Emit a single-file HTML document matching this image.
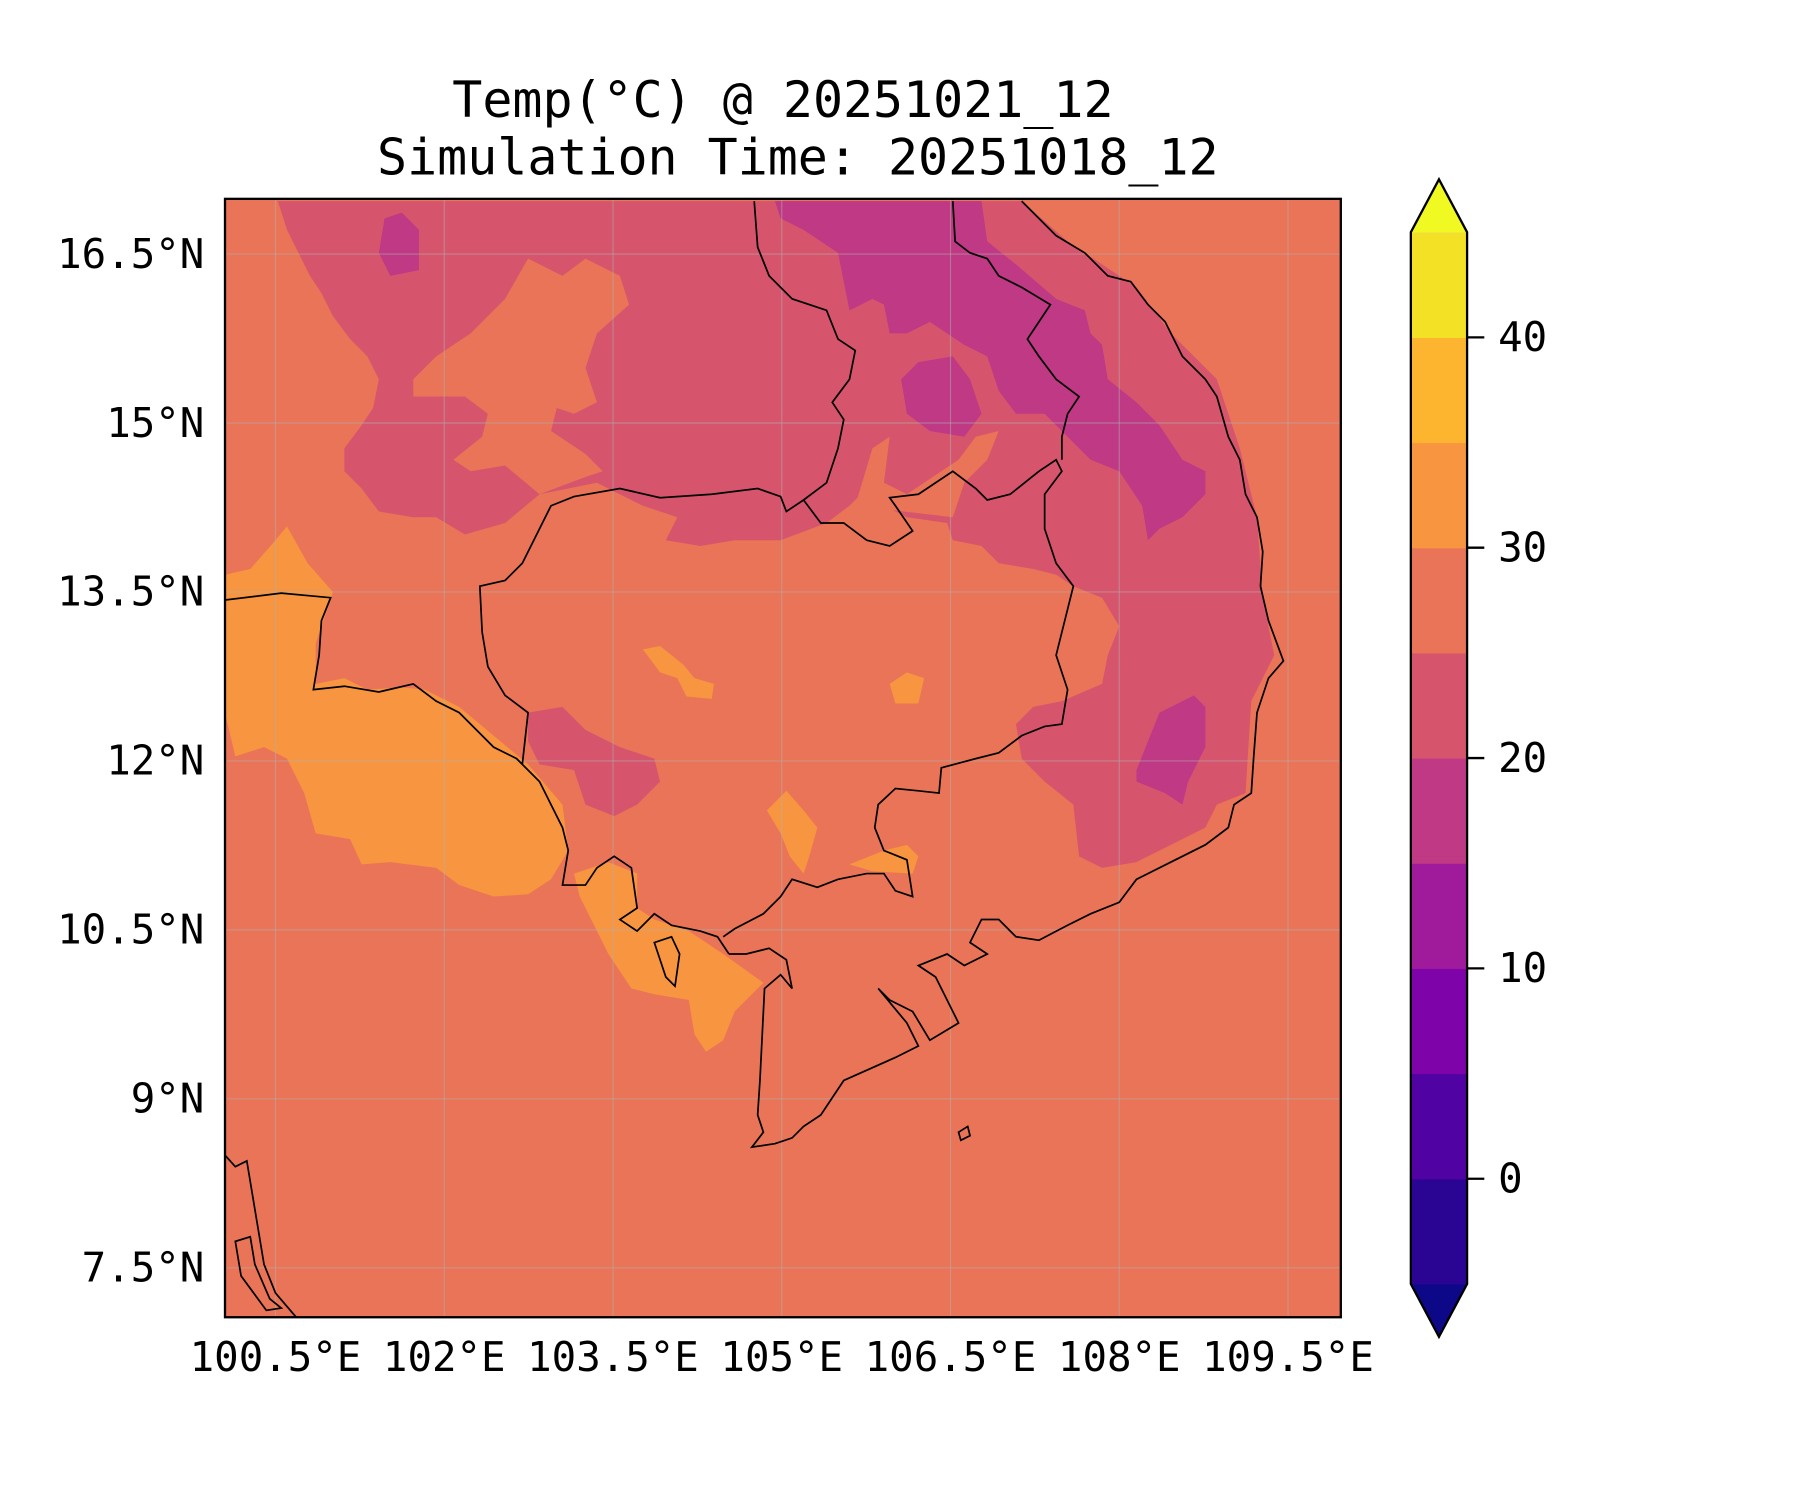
<!DOCTYPE html>
<html><head><meta charset="utf-8"><style>
html,body{margin:0;padding:0;background:#fff}
svg{display:block}
text{font-family:"DejaVu Sans Mono","Liberation Mono",monospace;fill:#000}
</style></head><body>
<svg id="fig" width="1800" height="1500" viewBox="0 0 1568 1305" preserveAspectRatio="none" xmlns="http://www.w3.org/2000/svg">
<text x="682" y="102" font-size="43.5" text-anchor="middle">Temp(°C) @ 20251021_12</text>
<text x="695" y="152" font-size="43.5" text-anchor="middle">Simulation Time: 20251018_12</text>
<defs><clipPath id="mapclip"><rect x="196" y="173" width="972" height="973"/></clipPath></defs>
<g clip-path="url(#mapclip)">
<rect x="196" y="173" width="972" height="973" fill="#ea7457"/>
<polygon fill="#f89540" points="196,500 218,495 240,470 250,458 268,490 290,515 275,560 275,595 300,590 320,600 350,598 370,600 400,615 430,640 460,665 490,700 495,740 480,765 460,778 430,780 400,770 380,755 340,750 315,752 305,730 275,725 265,690 250,660 230,650 205,658 196,620"/>
<polygon fill="#f89540" points="500,760 530,750 555,760 555,790 570,800 600,810 630,830 665,855 640,880 630,905 615,915 605,900 600,870 570,865 550,860 530,830 515,800 505,780"/>
<polygon fill="#f89540" points="560,565 575,562 595,578 605,590 622,595 620,608 598,606 590,590 575,585"/>
<polygon fill="#f89540" points="775,595 790,585 805,590 800,612 780,612"/>
<polygon fill="#f89540" points="668,705 685,688 700,705 712,720 705,745 700,760 688,745 680,725"/>
<polygon fill="#f89540" points="740,752 770,740 790,735 800,745 795,760 760,758"/>
<polygon fill="#d6556d" points="242,175 890,175 930,210 990,250 1020,290 1060,330 1080,390 1095,450 1100,520 1110,570 1090,610 1085,690 1060,700 1050,720 1030,730 990,750 960,755 940,745 935,700 910,680 890,660 885,630 900,615 925,610 960,595 965,570 975,545 960,520 935,510 920,500 900,495 870,490 855,475 830,470 825,455 790,450 770,440 760,420 740,440 720,455 680,470 640,470 610,475 580,470 590,450 560,440 520,420 470,430 440,455 405,465 380,450 360,450 330,445 315,425 300,410 300,390 315,370 325,355 330,330 320,310 305,295 290,275 280,255 270,240 260,220 250,200"/>
<polygon fill="#d6556d" points="460,620 490,615 510,635 540,650 570,660 575,680 555,700 535,710 510,700 500,670 470,665 460,645"/>
<polygon fill="#ea7457" points="360,330 380,310 410,290 440,260 460,225 490,240 510,225 540,240 548,265 520,290 510,320 520,350 500,360 485,355 480,375 510,395 525,410 510,415 470,430 440,405 410,410 395,400 420,380 425,360 405,345 380,345 360,345"/>
<polygon fill="#ea7457" points="745,440 760,390 775,380 770,420 790,430 820,410 835,400 850,380 870,375 860,400 840,420 830,450"/>
<polygon fill="#bf3984" points="675,175 855,175 860,210 885,230 920,260 945,270 950,290 960,300 965,330 990,350 1010,370 1030,400 1050,410 1050,430 1040,440 1030,450 1010,460 1000,470 995,440 975,410 950,400 930,380 910,360 885,360 870,340 860,310 840,300 825,290 810,280 790,290 775,290 770,265 760,260 740,270 730,220 700,200 680,190"/>
<polygon fill="#bf3984" points="785,330 800,315 830,310 845,330 855,360 840,380 810,375 790,360"/>
<polygon fill="#bf3984" points="335,190 350,185 365,200 365,235 340,240 330,220"/>
<polygon fill="#bf3984" points="990,670 1010,620 1040,605 1050,615 1050,650 1035,680 1030,700 1015,690 990,680"/>
<g id="grid" stroke="#b0b0b0" stroke-opacity="0.5" stroke-width="1"></g>
<g fill="none" stroke="#000" stroke-width="1.5">
<polyline points="196,522 245,516 288,520 280,540 278,570 273,600 300,597 330,602 360,595 380,610 400,620 415,635 430,650 450,660 470,680 480,700 490,720 495,740 490,770 510,770 520,755 535,745 550,755 555,790 540,800 555,810 570,795 585,805 610,810 625,815 635,830"/>
<polyline points="455,665 460,620 440,605 425,580 420,550 418,510 440,505 455,490 470,460 480,440 500,432 540,425 575,433 620,430 660,425 680,432 685,445 700,435 720,420 730,390 735,365 725,350 740,330 745,305 730,295 720,270 690,260 670,240 660,215 657,175"/>
<polyline points="700,435 715,455 735,455 755,470 775,475 795,462 780,440 775,433 800,430 815,420 830,410 850,425 860,435 880,430 905,410 920,400 925,410 910,430 910,460 920,490 935,510 925,550 920,570 930,600 925,630 910,632 890,640 870,655 850,660 820,668 818,690 800,688 780,686 765,700 762,720 770,740 790,748 795,780 780,775 770,760 755,760 730,765 712,772 690,765 680,780 665,795 640,808 630,815"/>
<polyline points="830,175 832,210 845,220 860,225 870,240 890,250 915,265 905,280 895,295 905,310 920,330 940,345 930,360 925,380 925,400"/>
<polyline points="890,175 920,205 945,220 965,240 985,245 1000,265 1015,280 1030,310 1050,330 1060,345 1070,380 1080,400 1085,430 1095,450 1100,480 1098,510 1105,540 1118,575 1105,590 1095,620 1092,660 1090,690 1075,700 1070,720 1050,735 1020,750 990,765 975,785 950,795 930,805 905,818 885,815 870,800 855,800 845,820 860,830 840,840 825,830 800,840 815,850 830,880 835,890 810,905 795,880 775,870 765,860 790,890 800,910 780,920 735,940 715,970 700,980 690,990 675,995 655,998 665,985 660,970 662,940 664,900 666,860 680,848 690,860 685,835 670,825 650,830 635,830"/>
<polyline points="196,1005 205,1015 215,1010 220,1040 225,1070 230,1100 240,1125 258,1146"/>
<polygon points="570,820 585,815 592,830 588,858 580,850 575,835"/>
<polygon points="835,985 843,980 845,988 837,992"/>
<polygon points="205,1080 218,1076 222,1100 235,1130 245,1138 232,1140 210,1110"/>
</g>
</g>
<rect x="196" y="173" width="972" height="973" fill="none" stroke="#000" stroke-width="2"/>
<g id="xlabels"></g>
<g id="ylabels"></g>
<g id="cbar"></g>
</svg>
<script>
const lonTicks=[100.5,102,103.5,105,106.5,108,109.5];
const lonLabels=["100.5°E","102°E","103.5°E","105°E","106.5°E","108°E","109.5°E"];
const latTicks=[16.5,15,13.5,12,10.5,9,7.5];
const latLabels=["16.5°N","15°N","13.5°N","12°N","10.5°N","9°N","7.5°N"];
const cbLevels=[-5,0,5,10,15,20,25,30,35,40,45];
const cbColors=["#2a0593","#5002a2","#7e03a8","#a01a9c","#bf3984","#d6556d","#ea7457","#f89540","#fdb42f","#f3e125"];
const cbUnder="#0d0887", cbOver="#f0f921";
const cbTicks=[0,10,20,30,40];
const NS="http://www.w3.org/2000/svg";
const xScale=lon=>240+(lon-100.5)*98;
const yScale=lat=>221+(16.5-lat)*98;
const cbTop=202,cbBot=1117,cbL=1229,cbR=1278;
const cbY=v=>cbBot-(v-cbLevels[0])/(cbLevels[cbLevels.length-1]-cbLevels[0])*(cbBot-cbTop);
function mk(tag,attrs,parent){const e=document.createElementNS(NS,tag);for(const k in attrs)e.setAttribute(k,attrs[k]);parent.appendChild(e);return e;}
const grid=document.getElementById('grid');
lonTicks.forEach((lon,i)=>{
  const l=mk('line',{x1:xScale(lon),x2:xScale(lon),y1:173,y2:1146},grid);
  
  
  const t=mk('text',{x:xScale(lon),y:1193,'font-size':35.5,'text-anchor':'middle'},document.getElementById('xlabels'));
  t.textContent=lonLabels[i];
  
  
});
latTicks.forEach((lat,i)=>{
  const l=mk('line',{x1:196,x2:1168,y1:yScale(lat),y2:yScale(lat)},grid);
  
  
  const t=mk('text',{x:178,y:yScale(lat)+12,'font-size':35.5,'text-anchor':'end'},document.getElementById('ylabels'));
  t.textContent=latLabels[i];
  
  
});
const cb=document.getElementById('cbar');
const cx=(cbL+cbR)/2;
const under=mk('polygon',{points:`${cbL},${cbBot} ${cbR},${cbBot} ${cx},${cbBot+46}`,fill:cbUnder},cb);


const over=mk('polygon',{points:`${cbL},${cbTop} ${cbR},${cbTop} ${cx},${cbTop-46}`,fill:cbOver},cb);


for(let i=0;i<cbColors.length;i++){
  const y1=cbY(cbLevels[i+1]),y0=cbY(cbLevels[i]);
  const r=mk('rect',{x:cbL,y:y1,width:cbR-cbL,height:y0-y1+0.5,fill:cbColors[i]},cb);
  
  
}
const outline=mk('polygon',{points:`${cbL},${cbTop} ${cx},${cbTop-46} ${cbR},${cbTop} ${cbR},${cbBot} ${cx},${cbBot+46} ${cbL},${cbBot}`,fill:'none',stroke:'#000','stroke-width':2},cb);


cbTicks.forEach(v=>{
  const tk=mk('line',{x1:cbR,x2:cbR+15,y1:cbY(v),y2:cbY(v),stroke:'#000','stroke-width':2},cb);
  
  
  const t=mk('text',{x:1305,y:cbY(v)+12,'font-size':35.5},cb);
  t.textContent=String(v);
  
  
});
</script>
</body></html>
